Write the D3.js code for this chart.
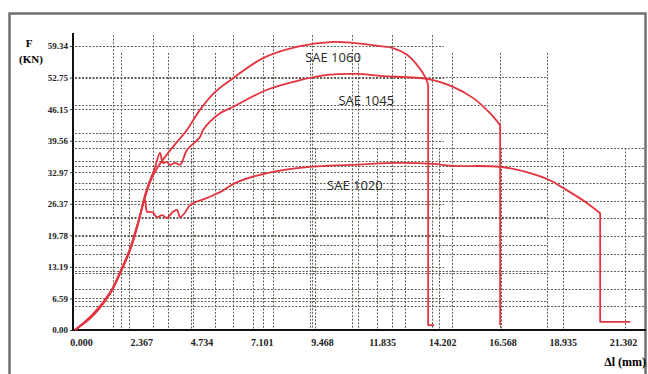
<!DOCTYPE html>
<html lang="en">
<head>
<meta charset="UTF-8">
<title>SAE 1020 / 1045 / 1060</title>
<script src="https://cdn.jsdelivr.net/npm/d3@7/dist/d3.min.js"></script>
<style>
  body { margin: 0; background: #fff; }
</style>
</head>
<body>
<script>
// tick labels of the original chart
var xTicks = [0, 2.367, 4.734, 7.101, 9.468, 11.835, 14.202, 16.568, 18.935, 21.302];
var yTicks = [0, 6.59, 13.19, 19.78, 26.37, 32.97, 39.56, 46.15, 52.75, 59.34];

// curves: [elongation mm, force kN]
var sae1060 = [[0, 0], [0.7, 3.3], [1.38, 7.9], [1.77, 12.1], [2.16, 17.0], [2.5, 22.9], [2.75, 27.6],
  [2.95, 30.9], [3.26, 34.1], [3.66, 37.0], [4.01, 39.3], [4.4, 41.8], [4.91, 46.0], [5.5, 49.7],
  [6.21, 52.6], [7.39, 56.8], [8.84, 59.3], [10.14, 60.2], [10.93, 60.0], [11.99, 59.3], [12.5, 58.9],
  [13.05, 57.5], [13.44, 55.4], [13.76, 52.9], [13.88, 51.2], [13.88, 1.0], [14.11, 1.0]];
var sae1045 = [[0, 0], [0.71, 3.0], [1.38, 7.6], [1.77, 11.8], [2.16, 16.6], [2.48, 22.2], [2.75, 28.2],
  [2.95, 31.3], [3.14, 33.9], [3.34, 37.0], [3.46, 34.9], [3.62, 35.1], [3.73, 34.5], [3.93, 34.9],
  [4.13, 34.5], [4.21, 35.1], [4.4, 37.6], [4.91, 40.3], [5.03, 41.8], [5.7, 45.3], [6.21, 46.6],
  [7.55, 50.2], [8.84, 52.2], [9.91, 53.3], [11.08, 53.5], [11.99, 53.1], [13.68, 52.6], [14.07, 52.2],
  [14.86, 50.8], [15.64, 48.5], [16.31, 45.3], [16.71, 42.8], [16.71, 1.0]];
var sae1020 = [[0, 0], [0.71, 3.1], [1.38, 7.7], [1.77, 11.9], [2.16, 16.7], [2.48, 22.4], [2.75, 27.2],
  [2.83, 24.7], [2.95, 24.7], [3.07, 24.5], [3.22, 23.6], [3.42, 24.0], [3.62, 23.4], [3.73, 24.0],
  [3.85, 24.7], [4.01, 25.1], [4.13, 23.6], [4.32, 24.5], [4.52, 26.1], [5.19, 27.6], [5.7, 28.8],
  [6.29, 30.7], [7.55, 32.8], [9.24, 34.1], [10.81, 34.5], [12.78, 34.9], [14.07, 34.7], [14.86, 34.3],
  [16.71, 34.1], [17.89, 32.8], [18.67, 31.3], [19.18, 29.7], [20.13, 26.5], [20.64, 24.4],
  [20.64, 1.7], [21.82, 1.7]];

var series = [
  { name: 'SAE 1060', values: sae1060, lx: 10.14, ly: 57.0 },
  { name: 'SAE 1045', values: sae1045, lx: 11.45, ly: 48.0 },
  { name: 'SAE 1020', values: sae1020, lx: 11.0, ly: 30.1 }
];

var width = 648;
var height = 374;
var red = '#e2343f';

var svg = d3.select('body')
  .append('svg')
  .attr('width', width)
  .attr('height', height);

// outer frame
svg.append('rect')
  .attr('x', 9.5).attr('y', 13.5)
  .attr('width', 636).attr('height', 380)
  .attr('fill', '#fff')
  .attr('stroke', '#707070')
  .attr('stroke-width', 2.5);

var x = d3.scaleLinear().domain([0, 21.302]).range([75, 617]);
var y = d3.scaleLinear().domain([0, 59.34]).range([330, 46]);

// the picture is three charts laid over each other, so three dotted grids
var grids = [
  { xs: d3.range(9).map(function(i) { return 1.494 + i * 1.568; }), ys: yTicks.slice(1), xEnd: 14.5, yTop: 61.6 },
  { xs: d3.range(10).map(function(i) { return 1.789 + i * 1.863; }), ys: d3.range(9).map(function(i) { return 52.86 - i * 5.85; }), xEnd: 18.6, yTop: 57.9 },
  { xs: d3.range(9).map(function(i) { return 2.12 + i * 2.437; }), ys: d3.range(10).map(function(i) { return 38.03 - i * 3.677; }), xEnd: 22.4, yTop: 38.03 }
];

var gridG = svg.append('g')
  .attr('stroke', '#46463a')
  .attr('stroke-width', 1)
  .attr('stroke-dasharray', '2,1.5')
  .attr('opacity', 0.85);

grids.forEach(function(g) {
  gridG.selectAll(null)
    .data(g.ys)
    .enter()
    .append('line')
    .attr('x1', x(0)).attr('x2', x(g.xEnd))
    .attr('y1', function(d) { return Math.round(y(d)) + 0.5; })
    .attr('y2', function(d) { return Math.round(y(d)) + 0.5; });
  gridG.selectAll(null)
    .data(g.xs)
    .enter()
    .append('line')
    .attr('y1', y(g.yTop)).attr('y2', y(0))
    .attr('x1', function(d) { return Math.round(x(d)) + 0.5; })
    .attr('x2', function(d) { return Math.round(x(d)) + 0.5; });
});

// axes
var xAxis = d3.axisBottom(x)
  .tickValues(xTicks)
  .tickSize(0)
  .tickPadding(9)
  .tickFormat(d3.format('.3f'));
var gx = svg.append('g')
  .attr('transform', 'translate(0,' + y(0) + ')')
  .call(xAxis);
gx.select('.domain').remove();
gx.selectAll('text')
  .attr('dx', 6)
  .attr('font-family', 'Liberation Serif, serif')
  .attr('font-size', '10px')
  .attr('font-weight', 'bold')
  .attr('fill', '#222');

var yAxis = d3.axisLeft(y)
  .tickValues(yTicks)
  .tickSize(3)
  .tickPadding(2)
  .tickFormat(d3.format('.2f'));
var gy = svg.append('g')
  .attr('transform', 'translate(73,0)')
  .call(yAxis);
gy.select('.domain').remove();
gy.selectAll('line').attr('stroke', '#444');
gy.selectAll('text')
  .attr('font-family', 'Liberation Serif, serif')
  .attr('font-size', '9px')
  .attr('font-weight', 'bold')
  .attr('fill', '#222');

// solid axis lines
svg.append('line')
  .attr('x1', 73).attr('x2', 73)
  .attr('y1', 33).attr('y2', y(0) + 1)
  .attr('stroke', '#111').attr('stroke-width', 2);
svg.append('line')
  .attr('x1', 72).attr('x2', 646)
  .attr('y1', y(0)).attr('y2', y(0))
  .attr('stroke', '#111').attr('stroke-width', 2);

// curves: smooth up to the fracture point, then straight drop
var smooth = d3.line()
  .curve(d3.curveCatmullRom.alpha(0.5))
  .x(function(d) { return x(d[0]); })
  .y(function(d) { return y(d[1]); });
var straight = d3.line()
  .x(function(d) { return x(d[0]); })
  .y(function(d) { return y(d[1]); });

function curvePath(v) {
  var k = v.length - 1;
  for (var i = 0; i < v.length - 1; i++) {
    if (v[i][0] === v[i + 1][0]) { k = i; break; }
  }
  return smooth(v.slice(0, k + 1)) + straight(v.slice(k)).replace(/^M/, 'L');
}

svg.selectAll('.curve')
  .data(series)
  .enter()
  .append('path')
  .attr('class', 'curve')
  .attr('fill', 'none')
  .attr('stroke', red)
  .attr('stroke-width', 1.8)
  .attr('stroke-linejoin', 'round')
  .attr('d', function(d) { return curvePath(d.values); });

svg.selectAll('.lbl')
  .data(series)
  .enter()
  .append('text')
  .attr('class', 'lbl')
  .attr('x', function(d) { return x(d.lx); })
  .attr('y', function(d) { return y(d.ly); })
  .attr('dy', '0.35em')
  .attr('text-anchor', 'middle')
  .attr('font-family', 'Open Sans, sans-serif')
  .attr('font-size', '13px')
  .attr('fill', '#2a2a2a')
  .text(function(d) { return d.name; });

// axis titles
var serif = 'Liberation Serif, serif';
svg.append('text')
  .attr('x', 29).attr('y', 47)
  .attr('text-anchor', 'middle')
  .attr('font-family', serif).attr('font-size', '11px').attr('font-weight', 'bold')
  .text('F');
svg.append('text')
  .attr('x', 31).attr('y', 63)
  .attr('text-anchor', 'middle')
  .attr('font-family', serif).attr('font-size', '11px').attr('font-weight', 'bold')
  .text('(KN)');
svg.append('text')
  .attr('x', 646).attr('y', 366)
  .attr('text-anchor', 'end')
  .attr('font-family', serif).attr('font-size', '12px').attr('font-weight', 'bold')
  .text('Δl (mm)');
</script>
</body>
</html>
